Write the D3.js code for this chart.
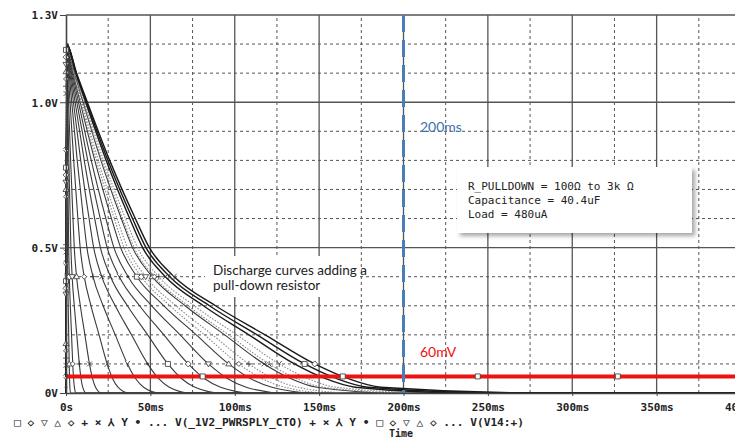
<!DOCTYPE html>
<html>
<head>
<meta charset="utf-8">
<script src="https://cdn.jsdelivr.net/npm/d3@7"></script>
<style>
  body { margin: 0; background: #fff; }
  svg { display: block; }
  .tick text { font-family: "DejaVu Sans Mono", monospace; font-weight: bold; font-size: 11px; fill: #222; }
</style>
</head>
<body>
<script>
var levels = [1.2, 1.1, 1.0, 0.8, 0.6, 0.5, 0.4, 0.3, 0.2, 0.1, 0.05, 0.02, 0]

var trace01 = [0.4, 0.45, 0.5, 0.64, 0.8, 0.9, 1.05, 1.3, 1.6, 1.9, 2.1, 2.3, 2.7]
var trace02 = [0.4, 0.54, 0.7, 1.02, 1.4, 1.6, 1.96, 2.56, 3.28, 4.0, 4.48, 4.96, 5.92]
var trace03 = [0.4, 0.7, 1.03, 1.7, 2.48, 2.9, 3.65, 4.9, 6.4, 7.9, 8.9, 9.9, 11.9]
var trace04 = [0.4, 0.94, 1.53, 2.74, 4.14, 4.9, 6.25, 8.5, 11.2, 13.9, 15.7, 17.5, 21.1]
var trace05 = [0.4, 1.36, 2.4, 4.56, 7.04, 8.4, 10.8, 14.8, 19.6, 24.4, 27.6, 30.8, 37.2]
var trace06 = [0.4, 1.84, 3.4, 6.64, 10.36, 12.4, 16.0, 22.0, 29.2, 36.4, 41.2, 46.0, 55.6]
var trace07 = [0.4, 2.32, 4.4, 8.72, 13.68, 16.4, 21.2, 29.2, 38.8, 48.4, 54.8, 61.2, 74.0]
var trace08 = [0.4, 2.8, 5.4, 10.8, 17.0, 20.4, 26.4, 36.4, 48.4, 60.4, 68.4, 76.4, 92.4]
var trace09 = [0.4, 3.28, 6.4, 12.88, 20.32, 24.4, 31.6, 43.6, 58.0, 72.4, 82.0, 91.6, 110.8]
var trace10 = [0.4, 3.76, 7.4, 14.96, 23.64, 28.4, 36.8, 50.8, 67.6, 84.4, 95.6, 106.8, 129.2]
var trace11 = [0.4, 4.24, 8.4, 17.04, 26.96, 32.4, 42.0, 58.0, 77.2, 96.4, 109.2, 122.0, 147.6]
var trace12 = [0.4, 4.48, 8.9, 18.08, 28.62, 34.4, 44.6, 61.6, 82.0, 102.4, 116.0, 129.6, 156.8]
var trace13 = [0.4, 4.72, 9.4, 19.12, 30.28, 36.4, 47.2, 65.2, 86.8, 108.4, 122.8, 137.2, 170.0]
var trace14 = [0.4, 5.08, 10.15, 20.68, 32.77, 39.4, 51.1, 70.6, 94.0, 117.4, 133.0, 148.6, 195.0]
var trace15 = [0.4, 5.2, 10.4, 21.2, 33.6, 40.4, 52.4, 72.4, 96.4, 120.4, 136.4, 152.4, 205.0]
var trace16 = [0.4, 5.44, 10.9, 22.24, 35.26, 42.4, 55.0, 76.0, 101.2, 126.4, 143.2, 160.0, 220.0]
var trace17 = [0.4, 5.8, 11.65, 23.8, 37.75, 45.4, 58.9, 81.4, 108.4, 135.4, 153.4, 171.4, 240.0]
var trace18 = [0.4, 6.04, 12.15, 24.84, 39.41, 47.4, 61.5, 85.0, 113.2, 141.4, 160.2, 179.0, 262.0]
var trace19 = [0.4, 6.28, 12.65, 25.88, 41.07, 49.4, 64.1, 88.6, 118.0, 147.4, 167.0, 186.6, 285.0]

var traces = [trace01, trace02, trace03, trace04, trace05, trace06, trace07, trace08, trace09, trace10,
  trace11, trace12, trace13, trace14, trace15, trace16, trace17, trace18, trace19]
var dottedTraces = [11, 12, 14, 15]   // lighter marker-dense traces
var heavyTraces = [16, 17, 18]

// markers stacked on the t=0 rise of the traces (V)
var riseMarkers = [1.18, 1.155, 1.13, 1.105, 1.08, 1.055, 1.03,
  0.85, 0.825, 0.8, 0.775, 0.75, 0.725, 0.7, 0.675,
  0.51, 0.485, 0.46, 0.435, 0.41, 0.385, 0.36, 0.34,
  0.17, 0.145, 0.12, 0.095, 0.07, 0.045, 0.02]

// 60mV limit trace and its markers (ms)
var limitVolts = 0.057
var limitMarkers = [81, 164, 244, 327]
var cursorTime = 200

var xTicks = [0, 50, 100, 150, 200, 250, 300, 350, 400]
var yTicks = [0, 0.5, 1.0, 1.3]
var yTickLabels = ['0V', '0.5V', '1.0V', '1.3V']
var legendText = '□ ◇ ▽ △ ◇ + × ⅄ Y • ... V(_1V2_PWRSPLY_CTO) + × ⅄ Y • □ ◇ ▽ △ ◇ ... V(V14:+)'
var noteLines = ['R_PULLDOWN = 100Ω to 3k Ω', 'Capacitance = 40.4uF', 'Load = 480uA']
var calloutLines = ['Discharge curves adding a', 'pull-down resistor']

var width = 735, height = 438

var x = d3.scaleLinear().domain([0, 400]).range([66, 741])
var y = d3.scaleLinear().domain([0, 1.3]).range([393, 15])

var svg = d3.select('body').append('svg')
  .attr('width', width)
  .attr('height', height)

var defs = svg.append('defs')
var shadow = defs.append('filter').attr('id', 'shadow')
  .attr('x', '-10%').attr('y', '-10%').attr('width', '130%').attr('height', '140%')
shadow.append('feDropShadow')
  .attr('dx', 3).attr('dy', 3).attr('stdDeviation', 2)
  .attr('flood-color', '#000').attr('flood-opacity', 0.35)

// grid
var grid = svg.append('g').attr('class', 'grid')
d3.range(25, 401, 25).forEach(function (t) {
  grid.append('line')
    .attr('x1', x(t)).attr('x2', x(t))
    .attr('y1', y(0)).attr('y2', y(1.3))
    .attr('stroke', '#555')
    .attr('stroke-width', t % 50 === 0 ? 1.3 : 1)
    .attr('stroke-dasharray', t % 50 === 0 ? null : '3,3')
})
d3.range(1, 14).forEach(function (i) {
  grid.append('line')
    .attr('x1', x(0)).attr('x2', width)
    .attr('y1', y(i / 10)).attr('y2', y(i / 10))
    .attr('stroke', '#555')
    .attr('stroke-width', i % 5 === 0 || i === 13 ? 1.3 : 1)
    .attr('stroke-dasharray', i % 5 === 0 || i === 13 ? null : '3,3')
})

// white patch behind the callout text
svg.append('rect')
  .attr('x', 205).attr('y', 256).attr('width', 153).attr('height', 41)
  .attr('fill', '#fff')

// discharge traces
var line = d3.line()
  .x(function (d) { return x(d[0]) })
  .y(function (d) { return y(d[1]) })
  .curve(d3.curveMonotoneX)

var curves = svg.append('g').attr('class', 'traces')
traces.forEach(function (times, i) {
  var pts = [[0, 0]].concat(times.map(function (t, j) { return [t, levels[j]] }))
  pts.push([400, 0])
  var dotted = dottedTraces.indexOf(i) >= 0
  var heavy = heavyTraces.indexOf(i) >= 0
  curves.append('path')
    .datum(pts)
    .attr('d', line)
    .attr('fill', 'none')
    .attr('stroke', dotted ? '#8a8a8a' : (heavy ? '#1a1a1a' : '#3a3a3a'))
    .attr('stroke-width', dotted ? 1.1 : (heavy ? 1.4 : 1.1))
    .attr('stroke-dasharray', dotted ? '1.5,1.5' : null)
})

// marker symbols (PSpice style)
var symbolPaths = [
  'M-2.5,-2.5h5v5h-5z',
  'M0,-3L3,0L0,3L-3,0Z',
  'M-3,-2L3,-2L0,3Z',
  'M-3,2L3,2L0,-3Z',
  'M0,-2.5L2.5,0L0,2.5L-2.5,0Z',
  'M-3,0H3M0,-3V3',
  'M-2.5,-2.5L2.5,2.5M2.5,-2.5L-2.5,2.5',
  'M0,-3V0M0,0L-2.5,3M0,0L2.5,3',
  'M-2.5,-3L0,0L2.5,-3M0,0V3',
  'M-1,0a1,1 0 1,0 2,0a1,1 0 1,0 -2,0'
]

function marker (g, px, py, k) {
  g.append('path')
    .attr('transform', 'translate(' + px + ',' + py + ')')
    .attr('d', symbolPaths[k % symbolPaths.length])
    .attr('fill', k % symbolPaths.length === 9 ? '#333' : '#fff')
    .attr('stroke', '#333')
    .attr('stroke-width', 0.8)
}

var marks = svg.append('g').attr('class', 'markers')
riseMarkers.forEach(function (v, i) { marker(marks, x(0), y(v), i) })
traces.forEach(function (times, i) {
  marker(marks, x(times[6]), y(levels[6]), i)
  marker(marks, x(times[9]), y(levels[9]), i + 3)
})

// 60mV limit
svg.append('line')
  .attr('x1', x(0)).attr('x2', width)
  .attr('y1', y(limitVolts)).attr('y2', y(limitVolts))
  .attr('stroke', '#ee1111')
  .attr('stroke-width', 4)
var limitMarks = svg.append('g').attr('class', 'limit-markers')
limitMarkers.forEach(function (t) { marker(limitMarks, x(t), y(limitVolts), 0) })

// 200ms cursor
svg.append('line')
  .attr('x1', x(cursorTime)).attr('x2', x(cursorTime))
  .attr('y1', y(1.3)).attr('y2', y(0))
  .attr('stroke', '#4a7ebb')
  .attr('stroke-width', 3)
  .attr('stroke-dasharray', '17,8')

// axes
var yAxis = d3.axisLeft(y)
  .tickValues(yTicks)
  .tickFormat(function (d, i) { return yTickLabels[i] })
  .tickSize(6)
  .tickSizeOuter(0)
  .tickPadding(2)
var xAxis = d3.axisBottom(x)
  .tickValues(xTicks)
  .tickFormat(function (d) { return d === 0 ? '0s' : d + 'ms' })
  .tickSize(3)
  .tickSizeOuter(0)
  .tickPadding(7)

svg.append('g')
  .attr('transform', 'translate(' + x(0) + ',0)')
  .call(yAxis)
  .call(function (g) {
    g.select('.domain').attr('stroke', '#444').attr('stroke-width', 1.6)
    g.selectAll('.tick line').attr('stroke', '#444')
    g.selectAll('.tick text').attr('dy', '0.36em')
  })

svg.append('g')
  .attr('transform', 'translate(0,' + y(0) + ')')
  .call(xAxis)
  .call(function (g) {
    g.select('.domain').attr('stroke', '#444').attr('stroke-width', 1.6)
    g.selectAll('.tick line').attr('stroke', '#444')
  })

// legend and axis title
svg.append('text')
  .attr('x', 14).attr('y', 426)
  .attr('textLength', 510)
  .attr('lengthAdjust', 'spacingAndGlyphs')
  .style('font-family', '"DejaVu Sans Mono", monospace')
  .style('font-weight', 'bold')
  .style('font-size', '10.5px')
  .style('fill', '#222')
  .text(legendText)

svg.append('text')
  .attr('x', 401).attr('y', 437)
  .attr('text-anchor', 'middle')
  .style('font-family', '"DejaVu Sans Mono", monospace')
  .style('font-weight', 'bold')
  .style('font-size', '10px')
  .style('fill', '#222')
  .text('Time')

// annotations
svg.append('text')
  .attr('x', 420).attr('y', 132)
  .style('font-family', 'Lato, "Open Sans", sans-serif')
  .style('font-size', '14px')
  .style('fill', '#3f72b0')
  .text('200ms')

svg.append('text')
  .attr('x', 420).attr('y', 357)
  .style('font-family', 'Lato, "Open Sans", sans-serif')
  .style('font-size', '14px')
  .style('fill', '#ee1111')
  .text('60mV')

svg.append('g')
  .selectAll('text')
  .data(calloutLines)
  .join('text')
  .attr('x', 213)
  .attr('y', function (d, i) { return 275 + i * 15 })
  .style('font-family', 'Lato, "Open Sans", sans-serif')
  .style('font-size', '13.5px')
  .style('fill', '#222')
  .text(function (d) { return d })

svg.append('rect')
  .attr('x', 457).attr('y', 167).attr('width', 235).attr('height', 66)
  .attr('fill', '#fff')
  .attr('filter', 'url(#shadow)')

svg.append('g')
  .selectAll('text')
  .data(noteLines)
  .join('text')
  .attr('x', 468)
  .attr('y', function (d, i) { return 190 + i * 14 })
  .style('font-family', '"DejaVu Sans Mono", monospace')
  .style('font-size', '11px')
  .style('fill', '#222')
  .text(function (d) { return d })
</script>
</body>
</html>
